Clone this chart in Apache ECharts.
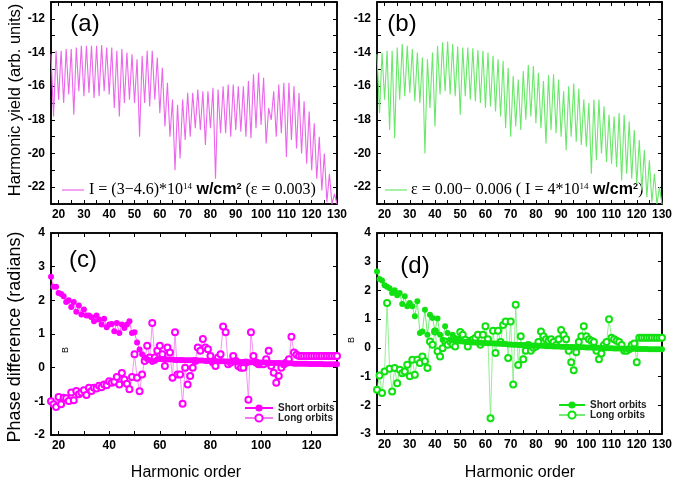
<!DOCTYPE html>
<html><head><meta charset="utf-8">
<script src="https://cdn.jsdelivr.net/npm/echarts@6/dist/echarts.min.js"></script>
<style>html,body{margin:0;padding:0;background:#fff}#c{width:675px;height:486px}</style>
</head><body><div id="c"></div>
<script>
// ---------- data ----------
// spectra: peaks at odd harmonics 17,19,...,129 ; dips at even harmonics 18,20,...,130
const peaksA = [-14.1,-13.9,-13.9,-13.8,-13.8,-13.7,-13.6,-13.6,-13.6,-13.6,
  -13.55,-13.7,-13.7,-13.9,-13.8,-14.0,-14.1,-14.4,-14.2,-13.9,
  -13.9,-14.3,-14.9,-15.8,-16.8,-17.1,-16.8,-16.4,-16.4,-16.2,
  -16.3,-16.3,-16.1,-16.2,-16.0,-15.9,-15.9,-16.0,-16.0,-15.7,
  -15.3,-15.2,-15.5,-17.3,-16.3,-15.9,-15.8,-15.8,-16.0,-16.4,
  -16.9,-17.5,-18.2,-19.0,-20.0,-21.2,-22.4];
const dipsA = [-17.8,-16.8,-17.0,-16.5,-17.7,-16.3,-16.6,-16.4,-16.7,-16.6,
  -16.3,-16.5,-17.3,-17.8,-17.0,-16.8,-17.0,-19.0,-17.0,-17.2,
  -16.8,-17.6,-18.4,-19.0,-21.0,-20.3,-19.2,-19.0,-18.5,-18.6,
  -19.5,-18.5,-21.5,-18.8,-18.8,-19.0,-18.6,-18.7,-19.0,-19.1,
  -18.5,-18.3,-19.4,-18.0,-19.0,-18.8,-20.2,-19.2,-19.7,-20.0,
  -20.6,-21.0,-21.5,-22.2,-22.9,-23.0,-23.0];
const peaksB = [-14.1,-14.0,-13.9,-13.9,-13.7,-13.5,-13.6,-13.8,-14.0,-14.3,
  -14.4,-14.0,-13.6,-13.4,-13.35,-13.5,-13.65,-13.7,-13.7,-13.75,
  -13.85,-13.9,-14.0,-14.2,-14.4,-14.5,-14.9,-15.4,-15.6,-15.1,
  -14.75,-14.8,-15.2,-15.7,-15.35,-15.3,-15.6,-16.3,-16.0,-15.85,
  -16.15,-16.8,-17.0,-16.8,-16.8,-17.2,-17.7,-17.8,-17.6,-17.7,
  -18.1,-18.6,-19.2,-19.8,-20.4,-21.2,-22.0];
const dipsB = [-17.6,-16.8,-18.6,-19.1,-16.8,-16.6,-16.4,-16.9,-17.0,-20.0,
  -17.3,-18.4,-16.5,-16.3,-16.5,-16.6,-17.7,-16.6,-16.8,-16.9,
  -17.0,-17.3,-17.2,-17.5,-17.8,-18.5,-19.0,-18.4,-18.6,-18.0,
  -17.8,-18.2,-18.5,-19.4,-18.6,-18.8,-19.0,-19.8,-19.0,-19.3,
  -19.5,-19.6,-21.2,-20.4,-20.0,-20.5,-20.6,-20.8,-21.6,-21.2,
  -21.5,-21.8,-22.2,-22.6,-22.9,-23.0,-23.0];
// phase differences, harmonic orders 17..130
const shortC = [2.7,2.4,2.4,2.22,2.19,2.12,1.95,2.0,1.8,1.95,
  1.66,1.85,1.58,1.73,1.55,1.55,1.5,1.38,1.55,1.43,
  1.28,1.45,1.2,1.28,1.3,1.08,1.33,1.03,1.28,1.18,
  1.28,1.38,1.03,1.05,0.75,0.54,0.4,0.3,0.25,0.22,
  0.17,0.2,0.25,0.26,0.25,0.25,0.24,0.24,0.24,0.23,
  0.23,0.23,0.23,0.22,0.22,0.22,0.22,0.21,0.21,0.21,
  0.21,0.2,0.2,0.2,0.2,0.19,0.19,0.19,0.19,0.18,
  0.18,0.18,0.18,0.17,0.17,0.17,0.17,0.16,0.16,0.16,
  0.16,0.15,0.15,0.15,0.15,0.15,0.14,0.14,0.14,0.14,
  0.14,0.13,0.13,0.13,0.13,0.13,0.12,0.12,0.12,0.12,
  0.12,0.12,0.11,0.11,0.11,0.11,0.11,0.11,0.1,0.1,
  0.1,0.1,0.1,0.1];
const longC = [-1.0,-1.09,-1.17,-0.87,-1.09,-0.89,-0.91,-0.99,-0.74,-0.97,
  -0.69,-0.79,-0.74,-0.67,-0.81,-0.6,-0.69,-0.6,-0.62,-0.54,
  -0.58,-0.5,-0.52,-0.4,-0.45,-0.42,-0.28,-0.5,-0.16,-0.35,
  -0.48,-0.64,-0.28,0.4,-0.3,-0.7,-0.2,0.2,0.65,0.3,
  1.33,0.3,0.5,0.65,0.4,0.05,0.6,0.45,-0.3,1.05,
  -0.2,-0.2,-1.07,0.0,-0.5,-0.25,0.0,0.2,0.6,0.5,
  0.85,0.6,0.55,0.35,0.15,0.05,0.3,0.4,1.22,1.05,
  0.1,0.15,0.35,0.2,0.05,0.0,0.0,0.15,-0.95,1.05,
  0.35,0.15,0.1,0.1,0.1,0.25,0.5,0.05,-0.15,-0.45,
  -0.25,0.0,0.1,0.15,0.25,0.92,0.45,0.38,0.35,0.35,
  0.35,0.35,0.35,0.35,0.35,0.35,0.35,0.35,0.35,0.35,
  0.35,0.35,0.35,0.35];
const shortD = [2.66,2.4,2.35,2.18,2.13,2.08,1.91,2.01,1.83,1.91,
  1.53,1.8,1.45,1.56,1.45,1.1,1.62,0.52,0.57,1.33,
  0.46,1.15,1.04,0.6,1.02,0.46,0.28,0.75,0.52,0.28,
  0.46,0.34,0.28,0.23,0.22,0.21,0.2,0.2,0.19,0.19,
  0.18,0.18,0.17,0.17,0.16,0.16,0.15,0.15,0.14,0.14,
  0.13,0.13,0.12,0.12,0.11,0.11,0.1,0.1,0.1,0.09,
  0.09,0.08,0.08,0.08,0.07,0.07,0.07,0.06,0.06,0.06,
  0.05,0.05,0.05,0.04,0.04,0.04,0.03,0.03,0.03,0.02,
  0.02,0.02,0.02,0.01,0.01,0.01,0.0,0.0,0.0,0.0,
  -0.01,-0.01,-0.01,-0.01,-0.02,-0.02,-0.02,-0.02,-0.03,-0.03,
  -0.03,-0.03,-0.03,-0.04,-0.04,-0.04,-0.04,-0.04,-0.05,-0.05,
  -0.05,-0.05,-0.05,-0.05];
const longD = [-1.46,-0.96,-1.57,-0.82,1.56,-0.73,-1.52,-0.7,-1.23,-0.76,
  -0.88,-0.82,-0.59,-0.99,-0.41,-0.94,-0.41,-0.53,-0.3,-0.47,
  -0.7,0.22,0.11,0.57,-0.12,-0.3,-0.01,0.22,0.11,0.22,
  0.11,0.05,0.28,0.55,0.46,0.28,0.05,0.25,0.28,0.34,
  0.46,0.11,0.46,0.75,0.3,-2.45,0.6,-0.18,0.6,0.2,
  0.8,0.92,-0.35,0.92,-1.28,1.5,-0.6,0.4,-0.4,-0.1,
  0.1,-0.1,0.0,0.05,0.2,0.57,0.4,0.3,0.25,0.3,
  0.2,0.1,0.3,0.62,0.45,0.3,-0.1,-0.5,-0.78,-0.15,
  0.2,0.4,0.75,0.4,0.3,0.25,0.2,-0.1,-0.4,-0.2,
  0.1,0.2,1.0,0.35,0.3,0.25,0.2,0.1,-0.1,-0.1,
  -0.05,0.1,0.15,-0.5,0.35,0.35,0.35,0.35,0.35,0.35,
  0.35,0.35,0.35,0.35];
const firstOrder = 17;
const xTicksTop = [20,30,40,50,60,70,80,90,100,110,120,130];
const xMinorTop = [25,35,45,55,65,75,85,95,105,115,125];
const xTicksC = [20,40,60,80,100,120];
const xMinorC = [30,50,70,90,110,130];
const xTicksD = [20,30,40,50,60,70,80,90,100,110,120,130];
const yTicksTop = [-22,-20,-18,-16,-14,-12];
const nameA = 'I = (3-4.6)*10^14 w/cm^2 (ε = 0.003)';
const nameB = 'ε = 0.00- 0.006 ( I = 4*10^14 w/cm^2)';

// ---------- build ----------
function spectrum(peaks, dips){
  const out = [];
  for (let i = 0; i < peaks.length; i++){
    out.push([firstOrder + 2*i, peaks[i]]);
    if (i < dips.length) out.push([firstOrder + 2*i + 1, dips[i]]);
  }
  return out;
}
function byOrder(vals){ return vals.map((v,i)=>[firstOrder+i, v]); }

const grids = [
  {left:51, top:2, width:286, height:202},
  {left:377, top:2, width:285, height:202},
  {left:51, top:233, width:286, height:202},
  {left:377, top:233, width:285, height:201}
];
const lab = {color:'#000', fontFamily:'Liberation Sans, Arial', fontWeight:'bold', fontSize:12};
const xAxes = [], yAxes = [];
function addAxes(gi, xMaj, xMin, ymin, ymax, yLabelFn){
  const ticks = xMaj.concat(xMin);
  xAxes.push({gridIndex:gi, type:'value', min:17, max:130, position:'bottom',
    axisLine:{onZero:false, lineStyle:{color:'#000', width:1.5}},
    axisTick:{inside:true, length:4, customValues:ticks, lineStyle:{color:'#000'}},
    axisLabel:Object.assign({customValues:xMaj, margin:5}, lab),
    splitLine:{show:false}});
  xAxes.push({gridIndex:gi, type:'value', min:17, max:130, position:'top',
    axisLine:{onZero:false, lineStyle:{color:'#000', width:1.5}},
    axisTick:{inside:true, length:4, customValues:ticks, lineStyle:{color:'#000'}},
    axisLabel:{show:false}, splitLine:{show:false}});
  const yl = Object.assign({margin:6, formatter:yLabelFn}, lab);
  yAxes.push({gridIndex:gi, type:'value', min:ymin, max:ymax, interval:1, position:'left',
    axisLine:{onZero:false, lineStyle:{color:'#000', width:1.5}},
    axisTick:{inside:true, length:4, lineStyle:{color:'#000'}},
    axisLabel:yl, splitLine:{show:false}});
  yAxes.push({gridIndex:gi, type:'value', min:ymin, max:ymax, interval:1, position:'right',
    axisLine:{onZero:false, lineStyle:{color:'#000', width:1.5}},
    axisTick:{inside:true, length:4, lineStyle:{color:'#000'}},
    axisLabel:{show:false}, splitLine:{show:false}});
}
const yTopFmt = v => yTicksTop.indexOf(v) >= 0 ? String(v) : '';
addAxes(0, xTicksTop, xMinorTop, -23, -11, yTopFmt);
addAxes(1, xTicksTop, xMinorTop, -23, -11, yTopFmt);
addAxes(2, xTicksC, xMinorC, -2, 4, v => String(v));
addAxes(3, xTicksD, xMinorTop, -3, 4, v => String(v));

const MAG = '#ff00ff', MAGL = '#ec66ec', GRN = '#11e011', GRNL = '#6ae86a';
const series = [
  {name:nameA, type:'line', xAxisIndex:0, yAxisIndex:0, data:spectrum(peaksA, dipsA),
   symbol:'none', lineStyle:{color:MAGL, width:1.1}, itemStyle:{color:MAGL}},
  {name:nameB, type:'line', xAxisIndex:2, yAxisIndex:2, data:spectrum(peaksB, dipsB),
   symbol:'none', lineStyle:{color:GRNL, width:1.1}, itemStyle:{color:GRNL}},
  {name:'Long orbits', type:'line', xAxisIndex:4, yAxisIndex:4, data:byOrder(longC),
   symbol:'emptyCircle', symbolSize:6, showSymbol:true,
   lineStyle:{color:'#f07af0', width:0.8}, itemStyle:{color:MAG, borderWidth:1}},
  {name:'Short orbits', type:'line', xAxisIndex:4, yAxisIndex:4, data:byOrder(shortC),
   symbol:'circle', symbolSize:6, lineStyle:{color:MAG, width:0.6}, itemStyle:{color:MAG}},
  {name:'Long orbits ', type:'line', xAxisIndex:6, yAxisIndex:6, data:byOrder(longD),
   symbol:'emptyCircle', symbolSize:6,
   lineStyle:{color:'#78ea78', width:0.8}, itemStyle:{color:GRN, borderWidth:1}},
  {name:'Short orbits ', type:'line', xAxisIndex:6, yAxisIndex:6, data:byOrder(shortD),
   symbol:'circle', symbolSize:6, lineStyle:{color:GRN, width:0.6}, itemStyle:{color:GRN}}
];

const serif = 'Liberation Serif, Times New Roman, serif';
const sans = 'Liberation Sans, Arial, sans-serif';
const richLeg = {
  s:{fontFamily:serif, fontSize:16, fill:'#000', color:'#000'},
  w:{fontFamily:sans, fontSize:16, fontWeight:'bold', fill:'#000', color:'#000'},
  sup:{fontFamily:serif, fontSize:9, fill:'#000', color:'#000', verticalAlign:'top'},
  supw:{fontFamily:sans, fontSize:9, fontWeight:'bold', fill:'#000', color:'#000', verticalAlign:'top'}
};
const smallLeg = {fontFamily:sans, fontSize:10, fontWeight:'bold', color:'#222'};
const legend = [
  {data:['Short orbits','Long orbits'], orient:'vertical', left:239, top:398, itemWidth:28, itemHeight:9,
   itemGap:0, selectedMode:false, textStyle:smallLeg},
  {data:['Short orbits ','Long orbits '], orient:'vertical', left:553, top:395, itemWidth:26, itemHeight:9,
   itemGap:0, selectedMode:false, textStyle:smallLeg, formatter:n=>n.trim()}
];

function txt(x, y, text, font, rot){
  return {type:'text', x:x, y:y, rotation:rot||0,
    style:{text:text, font:font, fill:'#000', align:'center', verticalAlign:'middle'}};
}
function legendSwatch(x, y, color){
  return {type:'line', shape:{x1:x, y1:y, x2:x+22, y2:y}, style:{stroke:color, lineWidth:1.2}};
}
function legendText(x, y, rich){
  return {type:'text', x:x, y:y, style:{text:rich, rich:richLeg, align:'left', verticalAlign:'middle'}};
}
const graphic = [
  txt(15, 100, 'Harmonic yield (arb. units)', '16.5px ' + sans, Math.PI/2),
  txt(15, 337, 'Phase difference (radians)', '18px ' + sans, Math.PI/2),
  txt(66, 350, 'B', '9px ' + sans, Math.PI/2),
  txt(352, 340, 'B', '9px ' + sans, Math.PI/2),
  txt(186, 473, 'Harmonic order', '16px ' + sans),
  txt(520, 473, 'Harmonic order', '16px ' + sans),
  txt(85, 24, '(a)', '24px ' + sans),
  txt(402, 24, '(b)', '24px ' + sans),
  txt(83, 260, '(c)', '24px ' + sans),
  txt(415, 266, '(d)', '24px ' + sans),
  legendSwatch(62, 190, MAGL),
  legendText(89, 190, '{s|I = (3\u22124.6)*10}{sup|14}{w| w/cm}{supw|2}{s| (ε = 0.003)}'),
  legendSwatch(385, 190, GRNL),
  legendText(411, 190, '{s|ε = 0.00\u2212 0.006 ( I = 4*10}{sup|14}{w| w/cm}{supw|2}{s|)}')
];

const chart = echarts.init(document.getElementById('c'), null, {renderer:'canvas'});
chart.setOption({
  animation:false,
  backgroundColor:'#fff',
  grid:grids.map(g=>Object.assign({show:true, borderColor:'#000', borderWidth:1.5, backgroundColor:'transparent'}, g)),
  xAxis:xAxes, yAxis:yAxes, series:series, legend:legend, graphic:graphic
});
</script></body></html>
